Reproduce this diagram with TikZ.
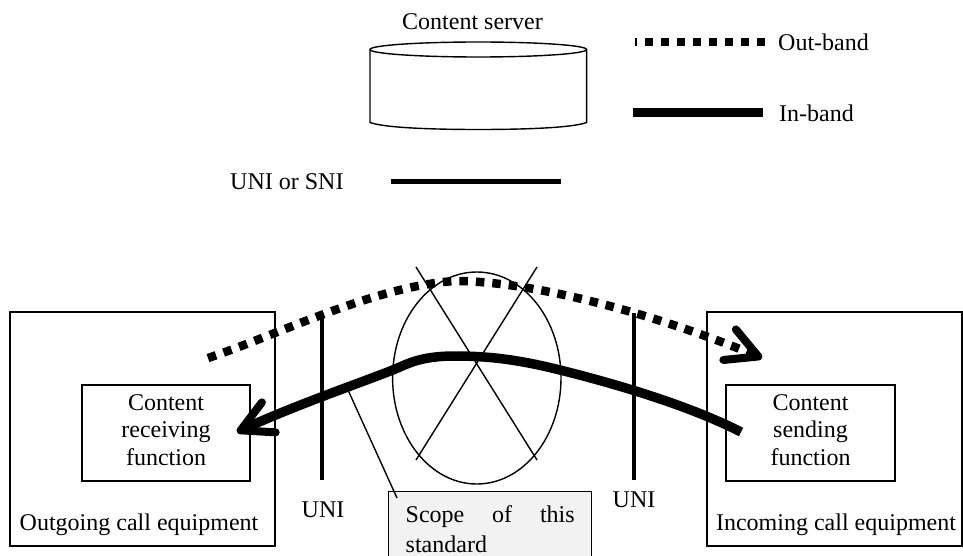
\documentclass[tikz,border=0pt]{standalone}
\usepackage{fontspec}
\setmainfont{Liberation Serif}
\usepackage{xcolor}
\definecolor{scopegray}{HTML}{F2F2F2}
\usetikzlibrary{arrows,arrows.meta}
\usetikzlibrary{positioning}
\tikzstyle{block} = [rectangle, draw, line width=1.4pt, inner sep=0pt, text centered]
\tikzstyle{caption} = [inner sep=0pt, font=\fontsize{24}{27.5}\selectfont, align=center]
\tikzstyle{thin line} = [draw, line width=1.4pt]
\tikzstyle{uni line} = [draw, line width=3.8pt]
\tikzstyle{outband} = [draw, line width=8.5pt, dash pattern=on 8.5pt off 8pt]
\tikzstyle{inband} = [draw, line width=9.5pt]
\tikzstyle{barb} = [-{Straight Barb[length=31pt,width=33pt,round,line width=8pt]}]

\begin{document}
\begin{tikzpicture}[x=1pt,y=-1pt]
    \useasboundingbox (0,0) rectangle (963,556);
    % Place nodes
    \node [caption] (server) at (472.5,22) {Content server};
    \node [caption,anchor=west] (outlabel) at (778,42) {Out-band};
    \node [caption,anchor=west] (inlabel) at (779,113) {In-band};
    \node [caption,anchor=west] (snilabel) at (230,182) {UNI or SNI};

    \node [block,minimum width=265pt,minimum height=234pt] (outgoing) at (142.5,429) {};
    \node [block,minimum width=255pt,minimum height=234pt] (incoming) at (834.5,429) {};
    \node [block,minimum width=168pt,minimum height=96pt] (recv) at (166,433) {};
    \node [block,minimum width=169pt,minimum height=96pt] (send) at (810.5,433) {};
    \node [caption] (recvtext) at (166,430) {Content\\receiving\\function};
    \node [caption] (sendtext) at (810.5,430) {Content\\sending\\function};
    \node [caption] (outgoingtext) at (139,525) {Outgoing call equipment};
    \node [caption] (incomingtext) at (836,525) {Incoming call equipment};
    \node [caption] (uni1) at (323,510) {UNI};
    \node [caption] (uni2) at (634,500) {UNI};

    \node [draw,line width=1.4pt,fill=scopegray,anchor=north west,minimum height=75pt,
        inner xsep=17pt,inner ysep=7pt,text width=169pt,align=justify,
        font=\fontsize{24}{30}\selectfont] (scope) at (388,491)
        {\hyphenpenalty=10000 Scope of this standard};

    % Content server
    \draw [thin line] (478.3,49.5) ellipse [x radius=108.3, y radius=7.5];
    \draw [thin line] (370,49.5) -- (370,122.5) .. controls (385,128) and (435,129.5) .. (478.3,129.5)
        .. controls (522,129.5) and (572,128) .. (586.6,122.5) -- (586.6,49.5);

    % Scope of this standard
    \draw [thin line] (476.8,378) ellipse [x radius=84.2, y radius=106];
    \coordinate (xa) at (416,267);
    \coordinate (xb) at (537,460);
    \coordinate (xc) at (537,267);
    \coordinate (xd) at (416,460);
    \path [thin line] (xa) -- (xb);
    \path [thin line] (xc) -- (xd);

    % Legend
    \coordinate (leg1) at (634.5,42);
    \coordinate (leg2) at (765,42);
    \coordinate (leg3) at (632.7,113);
    \coordinate (leg4) at (762.7,113);
    \coordinate (leg5) at (390.7,181.7);
    \coordinate (leg6) at (560.7,181.7);
    \path [draw,line width=8pt,dash pattern=on 8pt off 8pt,dash phase=5.5pt] (leg1) -- (leg2);
    \path [draw,line width=9pt] (leg3) -- (leg4);
    \path [draw,line width=4.5pt] (leg5) -- (leg6);

    % UNI lines
    \coordinate (uni1top) at (322,313);
    \coordinate (uni1low) at (322,480);
    \coordinate (uni2top) at (634,313);
    \coordinate (uni2low) at (634,480);
    \path [uni line] (uni1top) -- (uni1low);
    \path [uni line] (uni2top) -- (uni2low);

    % Draw edges
    \coordinate (outstart) at (208,358);
    \coordinate (outend) at (762,358);
    \coordinate (instart) at (741,432);
    \coordinate (inend) at (237,432);
    \path [outband,barb] (outstart) .. controls (280,334) and (375,286) .. (455,281)
        .. controls (530,281) and (650,312) .. (outend);
    \path [inband,barb] (instart) .. controls (690,406) and (620,385) .. (560,370)
        .. controls (520,360) and (490,356) .. (455,356)
        .. controls (430,356) and (415,360) .. (400,367)
        .. controls (372,379) and (300,403) .. (inend);

    \coordinate (leadtop) at (348,390);
    \coordinate (leadend) at (397,498);
    \path [thin line] (leadtop) -- (leadend);
\end{tikzpicture}
\end{document}
